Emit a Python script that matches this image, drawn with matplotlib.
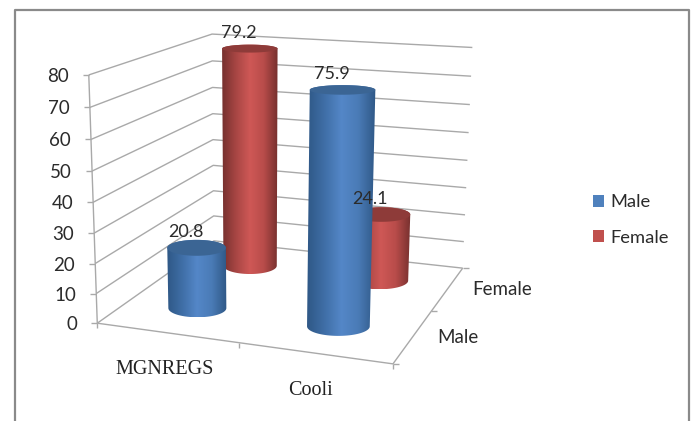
"""3D-style cylinder chart of work type by gender, projected onto a flat axes."""

import numpy as np
import matplotlib
matplotlib.use("Agg")
import matplotlib.pyplot as plt
from matplotlib.colors import LinearSegmentedColormap
from matplotlib.patches import PathPatch, Rectangle
from matplotlib.path import Path

CATEGORIES = ["MGNREGS", "Cooli"]
SERIES = ["Male", "Female"]
MALE = [20.8, 75.9]
FEMALE = [79.2, 24.1]
Z_TICKS = [0, 10, 20, 30, 40, 50, 60, 70, 80]
Z_MAX = 80

# box corners: (category pos, depth pos, value fraction) -> pixel position
BOX_WORLD = [(0, 0, 0), (1, 0, 0), (1, 1, 0), (0, 1, 0), (0, 0, 1), (0, 1, 1), (1, 1, 1)]
BOX_PIXEL = [(98, 323), (393, 364), (463, 268), (213, 241), (88, 75), (213, 34), (472, 47.5)]

GRID = "#a9a9a9"
TEXT = "#2b2b2b"
BLUE = dict(base="#4f81bd", ramp=["#2f5886", "#3f6ea6", "#5487c8", "#4a7bb6", "#2f5886"], top="#3b6594")
RED = dict(base="#c0504d", ramp=["#76302e", "#a84644", "#cf5856", "#b84c4a", "#76302e"], top="#8e3b39")


def fit_projection(world, pixel):
    rows = []
    for (x, y, z), (px, py) in zip(world, pixel):
        rows.append([x, y, z, 1, 0, 0, 0, 0, -px * x, -px * y, -px * z, -px])
        rows.append([0, 0, 0, 0, x, y, z, 1, -py * x, -py * y, -py * z, -py])
    return np.linalg.svd(np.array(rows, dtype=float))[2][-1].reshape(3, 4)


P = fit_projection(BOX_WORLD, BOX_PIXEL)


def project(u, v, value=0.0):
    h = P @ np.array([u, v, value / Z_MAX, 1.0])
    return h[:2] / h[2]


def line(ax, pts, lw=1.0, zorder=1):
    xs, ys = zip(*pts)
    ax.plot(xs, ys, color=GRID, lw=lw, zorder=zorder, solid_capstyle="butt")


def ellipse_pts(center, half_w, half_h, start, stop, n=40):
    t = np.linspace(start, stop, n)
    return np.column_stack([center[0] + half_w * np.cos(t), center[1] + half_h * np.sin(t)])


def half_width(u, v, value):
    return np.linalg.norm(project(u + 0.053, v, value) - project(u - 0.053, v, value))


def half_height(center):
    return 3 + 0.02 * center[1]


def cylinder(ax, u, v, value, style, zorder):
    top = project(u, v, value)
    bot = project(u, v, 0)
    wt, wb = half_width(u, v, value), half_width(u, v, 0)
    upper = ellipse_pts(top, wt, half_height(top), np.pi, 2 * np.pi)
    lower = ellipse_pts(bot, wb, half_height(bot), 0, np.pi)
    verts = np.vstack([upper, lower, upper[:1]])
    body = Path(verts, closed=True)

    # horizontal shading clipped to the cylinder outline
    left, right = verts[:, 0].min(), verts[:, 0].max()
    cmap = LinearSegmentedColormap.from_list("shade", style["ramp"])
    im = ax.imshow(np.linspace(0, 1, 128).reshape(1, -1), cmap=cmap, aspect="auto",
                   extent=(left, right, verts[:, 1].max(), verts[:, 1].min()), zorder=zorder)
    im.set_clip_path(PathPatch(body, transform=ax.transData))

    cap = ellipse_pts(top, wt, half_height(top), 0, 2 * np.pi, 80)
    ax.add_patch(PathPatch(Path(cap, closed=True), fc=style["top"], ec="none", zorder=zorder + 0.1))
    return top


def main():
    fig = plt.figure(figsize=(6.94, 4.21), dpi=100)
    ax = fig.add_axes([0, 0, 1, 1])
    plt.rcParams["font.family"] = ["Lato", "DejaVu Sans"]

    # outer frame, open at the bottom edge
    ax.plot([15, 15, 689, 689], [421, 10, 10, 421], color="#8a8a8a", lw=1.6, zorder=1)

    # gridlines along both walls
    for z in Z_TICKS:
        line(ax, [project(0, 0, z), project(0, 1, z), project(1, 1, z)])
        front = project(0, 0, z)
        line(ax, [front, front - np.array([6, 0])])
        ax.text(front[0] - 20, front[1] + 1.5, str(z), ha="right", va="center", fontsize=13.5, color=TEXT)
    line(ax, [project(0, 0, 0), project(0, 0, Z_MAX)])

    # floor edges and ticks
    line(ax, [project(0, 0), project(1, 0), project(1, 1)])
    for u in [0, 0.5, 1]:
        p = project(u, 0)
        line(ax, [p, p + np.array([0, 5])])
    for v in [0, 0.5, 1]:
        p = project(1, v)
        line(ax, [p, p + np.array([6, 0])])

    pos = [0.25, 0.75]

    for name, u, dx in zip(CATEGORIES, pos, [-2, -4]):
        p = project(u, 0)
        ax.text(p[0] + dx, p[1] + 37, name, ha="center", va="center", fontsize=14.5,
                family="Liberation Serif", color="#222222")
    for name, v in zip(SERIES, pos):
        p = project(1, v)
        ax.text(p[0] + 24, p[1] + 1, name, ha="left", va="center", fontsize=13.5, color=TEXT)

    # back row first so the front row hides it
    tops = []
    for i, u in enumerate(pos):
        tops.append((cylinder(ax, u, 0.75, FEMALE[i], RED, 3), FEMALE[i]))
    for i, u in enumerate(pos):
        tops.append((cylinder(ax, u, 0.25, MALE[i], BLUE, 4), MALE[i]))
    for top, value in tops:
        ax.text(top[0] - 11, top[1] - 16, f"{value}", ha="center", va="center",
                fontsize=13, color=TEXT, zorder=6)

    handles = [Rectangle((0, 0), 1, 1, fc=BLUE["base"]), Rectangle((0, 0), 1, 1, fc=RED["base"])]
    ax.legend(handles, SERIES, loc="center left", bbox_to_anchor=(577, 220), bbox_transform=ax.transData,
              frameon=False, fontsize=13.2, labelcolor=TEXT, handlelength=0.6, handleheight=0.6,
              handletextpad=0.3, labelspacing=1.05)

    ax.set_xlim(0, 694)
    ax.set_ylim(421, 0)
    ax.axis("off")
    fig.savefig("out.png", dpi=100, facecolor="white")


if __name__ == "__main__":
    main()
